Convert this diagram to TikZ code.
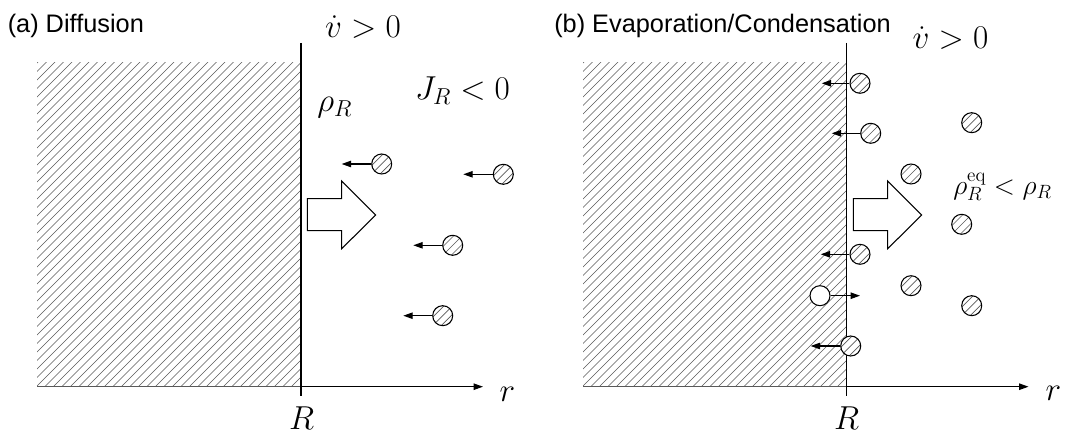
\documentclass[tikz,border=0pt]{standalone}
\usepackage[no-math]{fontspec}
\newfontfamily\labfont{Liberation Sans}
\usetikzlibrary{arrows.meta}
\begin{document}
\begin{tikzpicture}[x=0.75pt,y=-0.75pt,
  line/.style={line width=0.8pt, black},
  hatchline/.style={line width=0.5pt, black!65},
  tipped/.style={-{Triangle[length=7pt,width=4.8pt]}, line width=0.8pt},
  particle/.style={circle, draw, line width=0.8pt, inner sep=0pt, minimum size=15pt, fill=white,
     path picture={\foreach \s in {-17,-8.5,...,17} \draw[hatchline] (path picture bounding box.center) ++(\s-20,20) -- ++(40,-40);}},
  freeparticle/.style={circle, draw, line width=0.8pt, inner sep=0pt, minimum size=15pt, fill=white},
  mathlab/.style={font=\fontsize{23.5}{28}\selectfont, inner sep=0pt, anchor=base},
  title/.style={font=\labfont\fontsize{19}{22}\selectfont, inner sep=0pt, anchor=base west},
  bigarrow/.style={draw, line width=0.8pt, fill=white, line join=miter}
]
\useasboundingbox (0,0) rectangle (1067,434);

% ---------------- panel (a) ----------------
\begin{scope}
  \clip (37,63) rectangle (300.5,386.7);
  \foreach \s in {100,108.5,...,700} \draw[hatchline] (\s,0) -- (\s-500,500);
\end{scope}
\coordinate (ahl) at (37,386.7);
\coordinate (atop) at (301,43);
\coordinate (abot) at (301,396);
\coordinate (ax0) at (301,386.7);
\coordinate (ax1) at (483,386.7);
\draw[hatchline] (ahl) -- (ax0);
\draw[line] (atop) -- (abot);
\draw[line, -{Triangle[length=7pt,width=4.8pt]}] (ax0) -- (ax1);

\draw[bigarrow] (307.3,198.7) -- (341.7,198.7) -- (341.7,181) -- (375.7,215)
  -- (341.7,248.7) -- (341.7,230.7) -- (307.3,230.7) -- cycle;

\node[particle] (pa1) at (381.7,164) {};
\node[particle] (pa2) at (503.3,174.3) {};
\node[particle] (pa3) at (452.7,245.3) {};
\node[particle] (pa4) at (442.7,315.7) {};
\coordinate (ea1) at (341.7,164);
\coordinate (ea2) at (463.3,174.3);
\coordinate (ea3) at (413.3,245.3);
\coordinate (ea4) at (403.3,315.7);
\draw[tipped] (pa1.west) -- (ea1);
\draw[tipped] (pa2.west) -- (ea2);
\draw[tipped] (pa3.west) -- (ea3);
\draw[tipped] (pa4.west) -- (ea4);

\node[title] (ta) at (7.5,33) {(a) Diffusion};
\node[mathlab] (va) at (363,37.3) {$\dot v > 0$};
\node[mathlab, anchor=base west] (rhoa) at (317,112) {$\rho_R$};
\node[mathlab] (Ja) at (462.5,100) {$J_R < 0$};
\node[mathlab] (Ra) at (301.7,429.5) {$R$};
\node[mathlab] (ra) at (507.5,401.5) {$r$};

% ---------------- panel (b) ----------------
\begin{scope}
  \clip (583,63) rectangle (846.7,386.7);
  \foreach \s in {646,654.5,...,1250} \draw[hatchline] (\s,0) -- (\s-500,500);
\end{scope}
\coordinate (bhl) at (583,386.7);
\coordinate (btop) at (846.7,43);
\coordinate (bbot) at (846.7,396);
\coordinate (bx0) at (846.7,386.7);
\coordinate (bx1) at (1028.5,386.7);
\draw[hatchline] (bhl) -- (bx0);
\draw[line] (btop) -- (bbot);
\draw[line, -{Triangle[length=7pt,width=4.8pt]}] (bx0) -- (bx1);

\draw[bigarrow] (853.3,198.7) -- (887.7,198.7) -- (887.7,181) -- (921.7,215)
  -- (887.7,248.7) -- (887.7,230.7) -- (853.3,230.7) -- cycle;

\node[particle] (pb1) at (860,83.3) {};
\node[particle] (pb2) at (870.7,133.3) {};
\node[particle] (pb3) at (911,174) {};
\node[particle] (pb4) at (971.7,122.7) {};
\node[particle] (pb5) at (961.7,224.3) {};
\node[particle] (pb6) at (860,254.3) {};
\node[particle] (pb7) at (911,285.7) {};
\node[particle] (pb8) at (971.7,305.7) {};
\node[particle] (pb9) at (850.7,346) {};
\node[freeparticle] (pbo) at (820,295.7) {};
\coordinate (eb1) at (821.7,83.3);
\coordinate (eb2) at (831.7,133.3);
\coordinate (eb6) at (820.7,254.3);
\coordinate (eb9) at (810.7,346);
\coordinate (ebo) at (860,295.7);
\draw[tipped] (pb1.west) -- (eb1);
\draw[tipped] (pb2.west) -- (eb2);
\draw[tipped] (pb6.west) -- (eb6);
\draw[tipped] (pb9.west) -- (eb9);
\draw[tipped] (pbo.east) -- (ebo);

\node[title] (tb) at (554,33) {(b) Evaporation/Condensation};
\node[mathlab] (vb) at (950.5,48.3) {$\dot v > 0$};
\node[mathlab, anchor=base west, font=\fontsize{22.5}{27}\selectfont] (eqb) at (953,194.5) {$\rho_R^{\mathrm{eq}} < \rho_R$};
\node[mathlab] (Rb) at (846.7,429.5) {$R$};
\node[mathlab] (rb) at (1053.3,401) {$r$};
\end{tikzpicture}
\end{document}
